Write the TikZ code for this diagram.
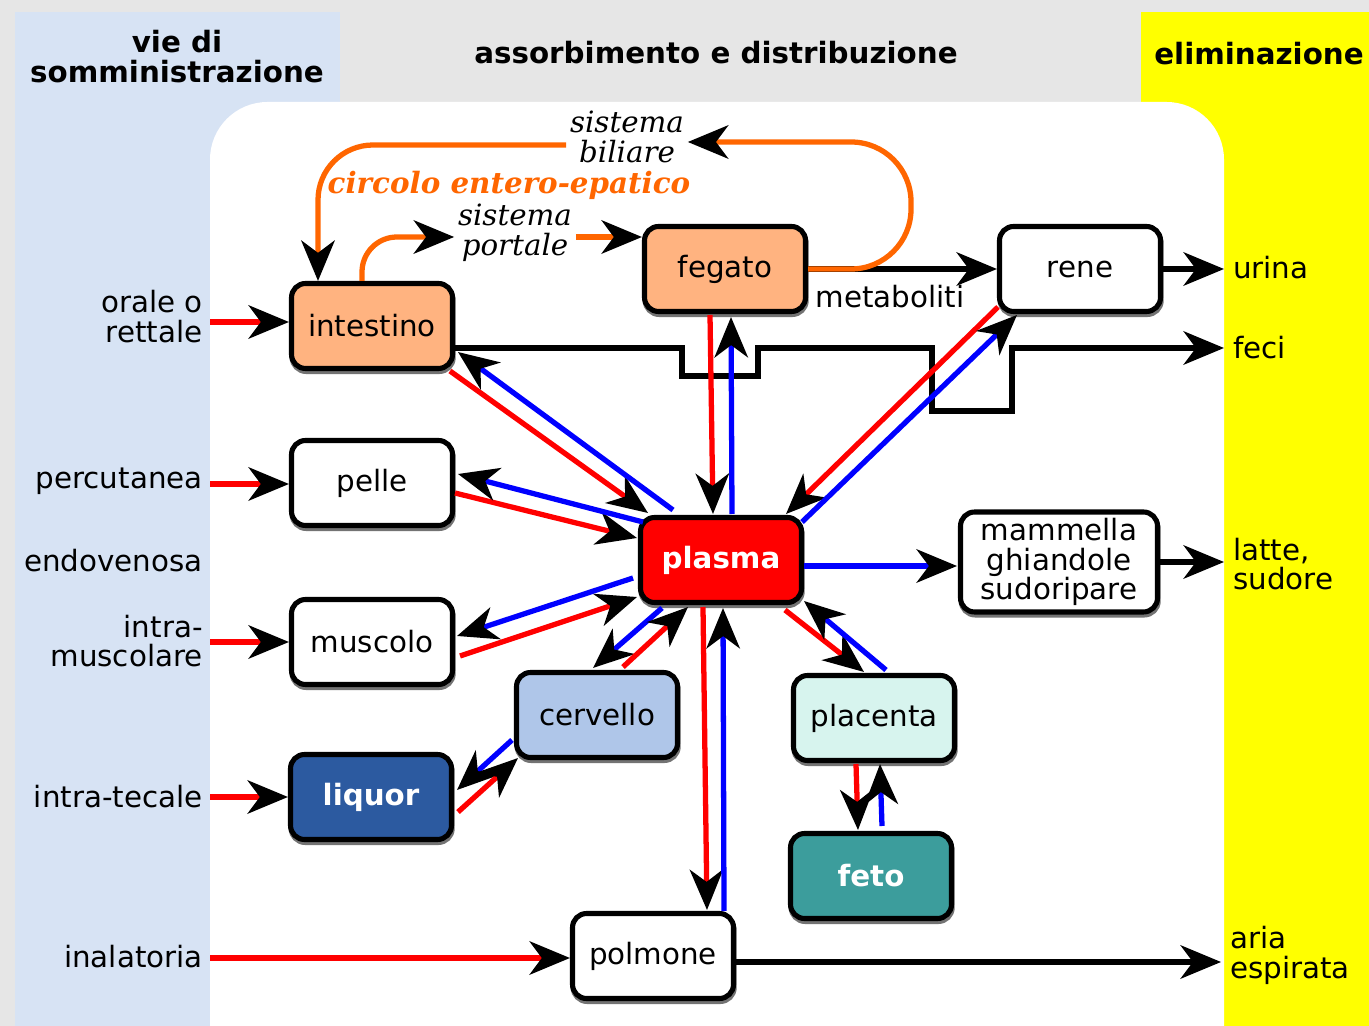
\documentclass[tikz,border=0pt]{standalone}
\usepackage{fontspec}
\setmainfont{DejaVu Sans}
\newfontfamily\serifit{DejaVu Serif}
\usepackage{tikz}
\usetikzlibrary{arrows.meta, calc, shadows}

\definecolor{bggray}{HTML}{E6E6E6}
\definecolor{viablue}{HTML}{D7E3F4}
\definecolor{elimyellow}{HTML}{FFFF00}
\definecolor{orgorange}{HTML}{FFB380}
\definecolor{brainblue}{HTML}{AFC6E9}
\definecolor{placmint}{HTML}{D7F4EE}
\definecolor{liqblue}{HTML}{2C5AA0}
\definecolor{fetoteal}{HTML}{3C9D9C}
\definecolor{epatic}{HTML}{FF6600}

\begin{document}
\begin{tikzpicture}[x=0.02cm, y=-0.02cm, line cap=butt,
    >={Stealth[length=23pt, width=19pt, inset=7pt, color=black]},
    font=\fontsize{16.7}{17}\selectfont,
    organ/.style={draw=black, line width=2.9pt, rounded corners=0.28cm,
      minimum width=3.22cm, minimum height=1.7cm, align=center, inner sep=2pt,
      drop shadow={shadow xshift=0.4pt, shadow yshift=-1.7pt, fill=black!55,
        draw=black!55, line width=2.9pt, opacity=1}},
    vialbl/.style={anchor=east, align=right, inner sep=0pt},
    outlbl/.style={anchor=west, align=left, inner sep=5pt},
    redin/.style={draw=red, line width=3pt, ->},
    blueout/.style={draw=blue, line width=3pt, ->},
    blk/.style={draw=black, line width=3pt, ->},
    bile/.style={draw=epatic, line width=3pt, ->}]

% page and the three columns
\clip (0,0) rectangle (1369,1026);
\fill[bggray] (0,0) rectangle (1369,1026);
\fill[viablue] (15,12) rectangle (340,1026);
\fill[elimyellow] (1141,12) rectangle (1369,1026);
\fill[white, rounded corners=1.15cm] (210,1100) -- (210,102) -- (1224,102) -- (1224,1100) -- cycle;

% column titles
\node (tvie) at (177,57) [align=center, font=\fontsize{16.7}{17}\selectfont\bfseries] {vie di\\somministrazione};
\node (tass) at (716,53) [font=\fontsize{16.7}{17}\selectfont\bfseries] {assorbimento e distribuzione};
\node (telim) at (1259,54) [font=\fontsize{16.7}{17}\selectfont\bfseries] {eliminazione};

% organs
\node (intestino) at (372,326) [organ, fill=orgorange] {intestino};
\node (fegato) at (725,269) [organ, fill=orgorange] {fegato};
\node (rene) at (1080,269) [organ, fill=white] {rene};
\node (pelle) at (372,483) [organ, fill=white] {pelle};
\node (plasma) at (721,560) [organ, fill=red, text=white, font=\fontsize{16.7}{17}\selectfont\bfseries] {plasma};
\node (mammella) at (1059,562) [organ, fill=white, minimum width=3.94cm, minimum height=2cm] {mammella\\ghiandole\\sudoripare};
\node (muscolo) at (372,642) [organ, fill=white] {muscolo};
\node (cervello) at (597,715) [organ, fill=brainblue] {cervello};
\node (placenta) at (874,718) [organ, fill=placmint] {placenta};
\node (liquor) at (371,797) [organ, fill=liqblue, text=white, font=\fontsize{16.7}{17}\selectfont\bfseries] {liquor};
\node (feto) at (871,876) [organ, fill=fetoteal, text=white, font=\fontsize{16.7}{17}\selectfont\bfseries] {feto};
\node (polmone) at (653,956) [organ, fill=white] {polmone};

% routes of administration
\node (orale) at (203,317) [vialbl] {orale o\\rettale};
\node (percut) at (203,481) [vialbl] {percutanea};
\node (endov) at (203,561) [vialbl] {endovenosa};
\node (intram) at (203,641) [vialbl] {intra-\\muscolare};
\node (intrat) at (203,797) [vialbl] {intra-tecale};
\node (inal) at (203,957) [vialbl] {inalatoria};

\coordinate (os) at (210,322);
\coordinate (ps) at (210,484);
\coordinate (ms) at (210,642);
\coordinate (ts) at (210,797);
\coordinate (is) at (210,958);
\draw[redin] (os) -- (os -| intestino.west);
\draw[redin] (ps) -- (ps -| pelle.west);
\draw[redin] (ms) -- (ms -| muscolo.west);
\draw[redin] (ts) -- (ts -| liquor.west);
\draw[redin] (is) -- (is -| polmone.west);

% elimination
\node (urina) at (1224,268) [outlbl] {urina};
\node (feci) at (1224,348) [outlbl] {feci};
\node (latte) at (1224,564) [outlbl] {latte,\\sudore};
\node (aria) at (1221,955) [outlbl] {aria\\espirata};

\draw[blk] (rene.east) -- (rene.east -| urina.west);
\draw[blk] (mammella.east) -- (mammella.east -| latte.west);
\draw[blk] ($(polmone.east)+(0,6)$) -- ($(polmone.east -| aria.west)+(0,6)$);
\draw[blk] (fegato.east) -- (rene.west);
\node (metab) at (890,297) {metaboliti};
\draw[blk] ($(intestino)+(83,22)$) -- ++(227,0) -- ++(0,28) -- ++(76,0) -- ++(0,-28)
  -- ++(174,0) -- ++(0,63) -- ++(80,0) -- ++(0,-63) -- (feci.west);

% entero-hepatic circle
\node (biliare) at (627,137) [align=center, inner sep=2pt, font=\fontsize{16.7}{17}\selectfont\serifit\itshape] {sistema\\biliare};
\node (portale) at (515,233) [align=center, inner sep=2pt, font=\fontsize{16.7}{17}\selectfont\serifit\itshape] {sistema\\portale};
\node (circolo) at (509,185) [text=epatic, font=\fontsize{16.7}{17}\selectfont\serifit\bfseries\itshape] {circolo entero-epatico};
\draw[bile, rounded corners=1.2cm] (fegato.east) -- ++(103,0) |- ($(biliare.east)+(0,5)$);
\draw[bile, rounded corners=1.1cm] ($(biliare.west)+(0,8)$) -| ($(intestino.north)+(-54,0)$);
\draw[bile, rounded corners=0.7cm] ($(intestino.north)+(-10,0)$) |- ($(portale.west)+(0,4)$);
\draw[bile] ($(portale.east)+(0,4)$) -- ($(portale.east -| fegato.west)+(0,4)$);

% exchanges with plasma: red in, blue out
\draw[redin] ($(intestino)+(78,45)$) -- ($(plasma)+(-73,-47)$);
\draw[blueout] ($(plasma)+(-48,-50)$) -- ($(intestino)+(86,26)$);
\draw[redin] ($(pelle)+(83,10)$) -- ($(plasma)+(-84,-22)$);
\draw[blueout] ($(plasma)+(-78,-38)$) -- ($(pelle)+(86,-9)$);
\draw[blueout] ($(plasma)+(-88,18)$) -- ($(muscolo)+(85,-6)$);
\draw[redin] ($(muscolo)+(88,14)$) -- ($(plasma)+(-84,37)$);
\draw[blueout] ($(plasma)+(-59,48)$) -- ($(cervello)+(-4,-47)$);
\draw[redin] ($(cervello)+(26,-48)$) -- ($(plasma)+(-33,47)$);
\draw[blueout] ($(cervello)+(-85,25)$) -- ($(liquor)+(86,-7)$);
\draw[redin] ($(liquor)+(87,15)$) -- ($(cervello)+(-79,43)$);
\draw[redin] ($(fegato)+(-15,46)$) -- ($(plasma)+(-8,-46)$);
\draw[blueout] ($(plasma)+(11,-46)$) -- ($(fegato)+(6,48)$);
\draw[redin] ($(rene)+(-82,38)$) -- ($(plasma)+(65,-46)$);
\draw[blueout] ($(plasma)+(81,-38)$) -- ($(rene)+(-63,46)$);
\draw[blueout] ($(plasma)+(83,6)$) -- ($(mammella)+(-102,4)$);
\draw[redin] ($(plasma)+(64,50)$) -- ($(placenta)+(-10,-46)$);
\draw[blueout] ($(placenta)+(12,-48)$) -- ($(plasma)+(83,41)$);
\draw[redin] ($(plasma)+(-18,47)$) -- ($(polmone)+(54,-46)$);
\draw[blueout] ($(polmone)+(71,-45)$) -- ($(plasma)+(2,48)$);
\draw[redin] ($(placenta)+(-18,46)$) -- ($(feto)+(-13,-46)$);
\draw[blueout] ($(feto)+(11,-50)$) -- ($(placenta)+(6,46)$);

\end{tikzpicture}
\end{document}
